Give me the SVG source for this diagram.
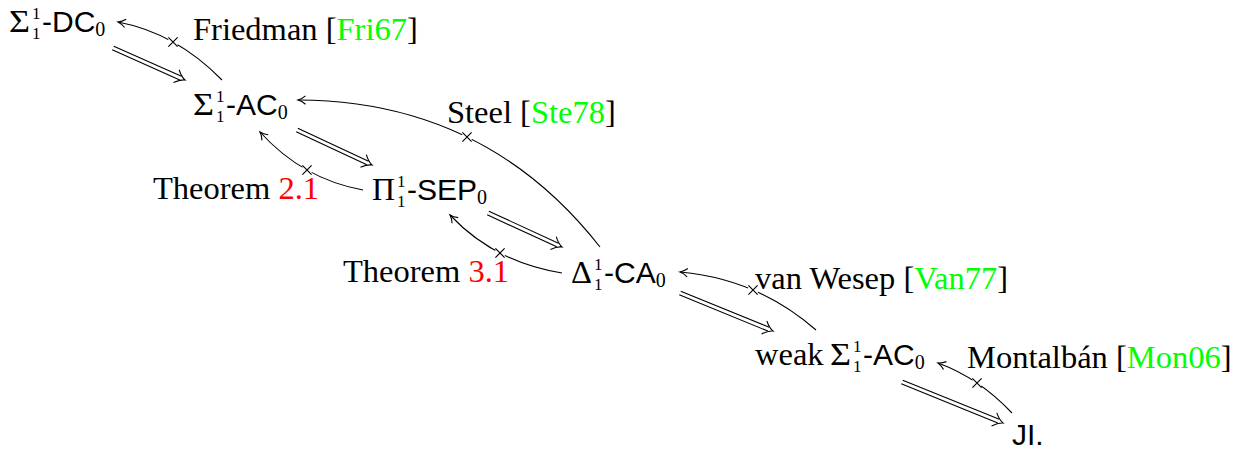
<svg xmlns="http://www.w3.org/2000/svg" xmlns:xlink="http://www.w3.org/1999/xlink" width="1249" height="450" viewBox="0 0 1249 450">
<style>
.rm{font-family:"Liberation Serif","Times New Roman",serif;font-size:32.5px;fill:#000}
.m{font-family:"Liberation Serif","Times New Roman",serif;font-size:31px;fill:#000}
.sc{font-family:"Liberation Serif","Times New Roman",serif;font-size:17px;fill:#000}
.sf{font-family:"Liberation Sans",Arial,sans-serif;font-size:30px;fill:#000}
.sb{font-family:"Liberation Serif","Times New Roman",serif;font-size:20px}
.g{fill:#00ff00}
.r{fill:#ff0000}
.ln{fill:none;stroke:#000;stroke-width:1.1}
</style>
<defs>
<marker id="to" viewBox="-10 -6 12 12" refX="0" refY="0" markerWidth="12" markerHeight="12" markerUnits="userSpaceOnUse" orient="auto" overflow="visible">
<path d="M-7.5,-4.2 C-4.5,-1.6 -1.5,-0.4 0,0 C-1.5,0.4 -4.5,1.6 -7.5,4.2" fill="none" stroke="#000" stroke-width="1.1"/>
</marker>
<g id="dh"><path d="M-9.5,-7 C-6,-3 -2.5,-0.8 0,0 C-2.5,0.8 -6,3 -9.5,7" fill="none" stroke="#000" stroke-width="1.1"/></g>
<g id="cross"><circle r="5.4" fill="#fff" stroke="none"/><path d="M-4.6,-4.6L4.6,4.6M-4.6,4.6L4.6,-4.6" fill="none" stroke="#000" stroke-width="1.15"/></g>
</defs>
<rect width="1249" height="450" fill="#fff"/>

<g id="connectors">
<path class="ln" d="M222,80 Q176,33 118,22" marker-end="url(#to)"/>
<path class="ln" d="M600,247 Q485,100.5 298,100" marker-end="url(#to)"/>
<path class="ln" d="M363,190 Q302.5,179 260,132" marker-end="url(#to)"/>
<path class="ln" d="M562,273 Q494,262 450,215" marker-end="url(#to)"/>
<path class="ln" d="M816,330 Q758,279 680,272" marker-end="url(#to)"/>
<path class="ln" d="M1012,413 Q979,378 938,363" marker-end="url(#to)"/>
<use xlink:href="#cross" href="#cross" transform="translate(173,42)"/>
<use xlink:href="#cross" href="#cross" transform="translate(467,137)"/>
<use xlink:href="#cross" href="#cross" transform="translate(307,170)"/>
<use xlink:href="#cross" href="#cross" transform="translate(500,253)"/>
<use xlink:href="#cross" href="#cross" transform="translate(753,290)"/>
<use xlink:href="#cross" href="#cross" transform="translate(977,383)"/>
<g transform="translate(113,48) rotate(23.96)"><path class="ln" d="M0,-2H74M0,2H74"/><use xlink:href="#dh" href="#dh" x="78.8"/></g>
<g transform="translate(297,130) rotate(25.02)"><path class="ln" d="M0,-2H78M0,2H78"/><use xlink:href="#dh" href="#dh" x="82.8"/></g>
<g transform="translate(488,213) rotate(24.68)"><path class="ln" d="M0,-2H76.6M0,2H76.6"/><use xlink:href="#dh" href="#dh" x="81.4"/></g>
<g transform="translate(680,293) rotate(22.23)"><path class="ln" d="M0,-2H95.7M0,2H95.7"/><use xlink:href="#dh" href="#dh" x="100.5"/></g>
<g transform="translate(902,382) rotate(22.09)"><path class="ln" d="M0,-2H104.2M0,2H104.2"/><use xlink:href="#dh" href="#dh" x="109"/></g>
</g>

<g id="labels">
<text class="rm" x="193" y="40">Friedman [<tspan class="g">Fri67</tspan>]</text>
<text class="rm" x="447" y="123">Steel [<tspan class="g">Ste78</tspan>]</text>
<text class="rm" x="153" y="199">Theorem <tspan class="r">2.1</tspan></text>
<text class="rm" x="343" y="282">Theorem <tspan class="r">3.1</tspan></text>
<text class="rm" x="755" y="289">van Wesep [<tspan class="g">Van77</tspan>]</text>
<text class="rm" x="967" y="368">Montalbán [<tspan class="g">Mon06</tspan>]</text>
</g>

<g id="n-dc">
<text class="m" x="9" y="32" textLength="21" lengthAdjust="spacingAndGlyphs">Σ</text>
<text class="sc" x="32" y="19">1</text>
<text class="sc" x="32" y="39">1</text>
<text class="sf" x="42" y="32">-DC<tspan class="sb" dy="4">0</tspan></text>
</g>
<g id="n-ac">
<text class="m" x="193" y="115" textLength="21" lengthAdjust="spacingAndGlyphs">Σ</text>
<text class="sc" x="216" y="102">1</text>
<text class="sc" x="216" y="122">1</text>
<text class="sf" x="226" y="115">-AC<tspan class="sb" dy="4">0</tspan></text>
</g>
<g id="n-sep">
<text class="m" x="372" y="200" textLength="23" lengthAdjust="spacingAndGlyphs">Π</text>
<text class="sc" x="397" y="187">1</text>
<text class="sc" x="397" y="207">1</text>
<text class="sf" x="407" y="200">-SEP<tspan class="sb" dy="4">0</tspan></text>
</g>
<g id="n-ca">
<text class="m" x="571" y="283" textLength="21" lengthAdjust="spacingAndGlyphs">Δ</text>
<text class="sc" x="594" y="270">1</text>
<text class="sc" x="594" y="290">1</text>
<text class="sf" x="604" y="283">-CA<tspan class="sb" dy="4">0</tspan></text>
</g>
<g id="n-weak">
<text class="rm" x="755" y="365">weak</text>
<text class="m" x="830" y="365" textLength="21" lengthAdjust="spacingAndGlyphs">Σ</text>
<text class="sc" x="853" y="352">1</text>
<text class="sc" x="853" y="372">1</text>
<text class="sf" x="863" y="365">-AC<tspan class="sb" dy="4">0</tspan></text>
</g>
<g id="n-ji">
<text class="sf" x="1012" y="445">JI.</text>
</g>
</svg>
